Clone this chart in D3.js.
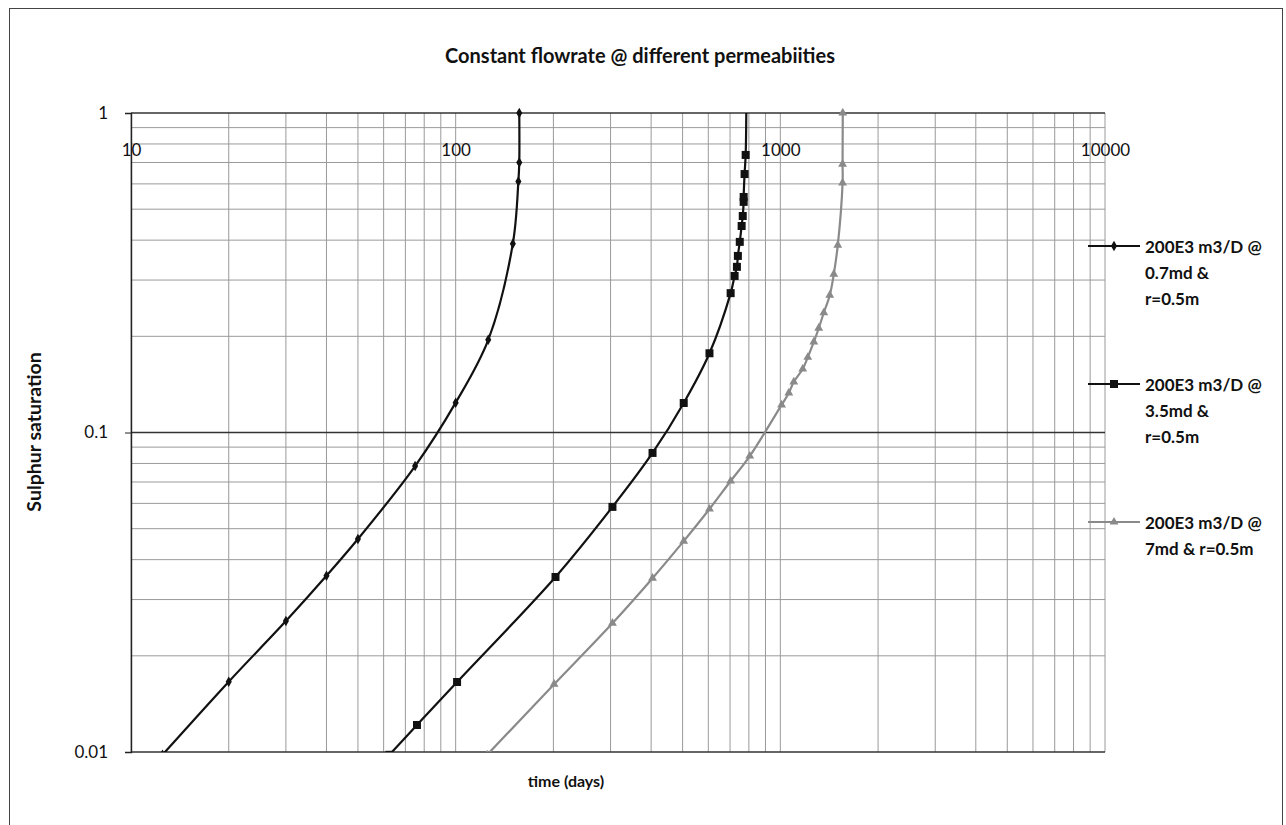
<!DOCTYPE html>
<html><head><meta charset="utf-8">
<script src="https://cdn.jsdelivr.net/npm/d3@7"></script>
<style>
body{margin:0;background:#fff}
svg{display:block}
text{font-family:Lato,"Open Sans",sans-serif;fill:#111}
</style>
</head><body>
<svg id="c" width="1286" height="825"></svg>
<script>
// ---- data ----
const xTickValues = [10, 100, 1000, 10000];
const xTickLabels = ["10", "100", "1000", "10000"];
const yTickValues = [1, 0.1, 0.01];
const yTickLabels = ["1", "0.1", "0.01"];
const seriesNames = [
  ["200E3 m3/D @", "0.7md &", "r=0.5m"],
  ["200E3 m3/D @", "3.5md &", "r=0.5m"],
  ["200E3 m3/D @", "7md & r=0.5m"]
];
// 0.7 md
const time07 = [157, 157, 156, 150, 126, 100, 75, 50, 40, 30, 20, 12.5];
const sat07  = [1, 0.70, 0.61, 0.39, 0.195, 0.124, 0.0785, 0.0464, 0.0356, 0.0257, 0.0166, 0.0098];
// 3.5 md
const time35 = [786, 782, 776, 771, 771, 766, 760, 750, 740, 735, 723, 703, 605, 504, 404, 304, 203, 101, 76, 62.5];
const sat35  = [1.08, 0.739, 0.644, 0.546, 0.527, 0.476, 0.443, 0.395, 0.357, 0.330, 0.309, 0.273, 0.177, 0.1237, 0.0863, 0.0585, 0.0353, 0.01656, 0.01215, 0.0098];
// 7 md
const time7 = [1557, 1555, 1555, 1503, 1461, 1420, 1361, 1313, 1268, 1215, 1172, 1100, 1062, 1009, 805, 703, 605, 504, 404, 304, 201, 125];
const sat7  = [1, 0.692, 0.604, 0.386, 0.313, 0.269, 0.237, 0.212, 0.192, 0.172, 0.158, 0.144, 0.133, 0.122, 0.0844, 0.0705, 0.0576, 0.0457, 0.0350, 0.0253, 0.0163, 0.0098];

const series = [
  {name: seriesNames[0], t: time07, s: sat07, color: "#111", symbol: d3.symbolDiamond, size: 32},
  {name: seriesNames[1], t: time35, s: sat35, color: "#111", symbol: d3.symbolSquare, size: 64},
  {name: seriesNames[2], t: time7,  s: sat7,  color: "#8a8a8a", symbol: d3.symbolTriangle, size: 34}
];

// ---- layout ----
const L = 131, R = 1105, T = 113, B = 752;
const svg = d3.select("#c");
const x = d3.scaleLog().domain([10, 10000]).range([L, R]);
const y = d3.scaleLog().domain([0.01, 1]).range([B, T]);

// outer frame
svg.append("rect").attr("x", 9.5).attr("y", 8.5).attr("width", 1273).attr("height", 830)
  .attr("fill", "none").attr("stroke", "#444").attr("stroke-width", 1);

// title
svg.append("text").attr("x", 640).attr("y", 55).attr("text-anchor", "middle")
  .attr("dominant-baseline", "central").style("font-weight", "bold").style("font-size", "20px")
  .text("Constant flowrate @ different permeabiities");

// grid
const g = svg.append("g");
const isMajor = d => yTickValues.some(v => Math.abs(v - d) < 1e-9);
g.selectAll("line.vx").data(x.ticks()).join("line")
  .attr("x1", d => x(d)).attr("x2", d => x(d)).attr("y1", T).attr("y2", B)
  .attr("stroke", "#9a9a9a").attr("stroke-width", 1);
g.selectAll("line.hy").data(y.ticks()).join("line")
  .attr("x1", L).attr("x2", R).attr("y1", d => y(d)).attr("y2", d => y(d))
  .attr("stroke", d => isMajor(d) ? "#333" : "#9a9a9a")
  .attr("stroke-width", d => isMajor(d) ? 1.4 : 1);

// y axis
const yAxis = d3.axisLeft(y).tickValues(yTickValues)
  .tickFormat((d, i) => yTickLabels[i]).tickSize(6).tickPadding(17);
const ya = svg.append("g").attr("transform", `translate(${L},0)`).call(yAxis);
ya.select(".domain").attr("stroke", "#222").attr("stroke-width", 1.4);
ya.selectAll(".tick line").attr("stroke", "#222");
ya.selectAll("text").style("font-size", "17px").attr("fill", "#111").attr("font-family", null);

// x tick labels (drawn near the top like the original)
const xa = svg.append("g").attr("transform", `translate(0,150)`)
  .call(d3.axisBottom(x).tickValues(xTickValues).tickFormat((d, i) => xTickLabels[i]).tickSize(0).tickPadding(0));
xa.select(".domain").remove();
xa.selectAll("text").attr("dy", "0.35em").attr("y", 0).style("font-size", "17px").attr("fill", "#111").attr("font-family", null);

// axis titles
svg.append("text").attr("transform", "translate(33,432) rotate(-90)").attr("text-anchor", "middle")
  .attr("dominant-baseline", "central").style("font-weight", "bold").style("font-size", "19.5px")
  .text("Sulphur saturation");
svg.append("text").attr("x", 566).attr("y", 780).attr("text-anchor", "middle")
  .attr("dominant-baseline", "central").style("font-weight", "bold").style("font-size", "16px")
  .text("time (days)");

// clips
svg.append("clipPath").attr("id", "lineclip").append("rect")
  .attr("x", L).attr("y", T).attr("width", R - L).attr("height", B - T);
svg.append("clipPath").attr("id", "markclip").append("rect")
  .attr("x", L).attr("y", T - 5).attr("width", R - L).attr("height", B - T + 5);

const lines = svg.append("g").attr("clip-path", "url(#lineclip)");
const marks = svg.append("g").attr("clip-path", "url(#markclip)");
const line = d3.line().x(d => x(d[0])).y(d => y(d[1])).curve(d3.curveCatmullRom.alpha(0.5));

series.forEach(sr => {
  const pts = sr.t.map((t, i) => [t, sr.s[i]]);
  lines.append("path").datum(pts).attr("d", line).attr("fill", "none")
    .attr("stroke", sr.color).attr("stroke-width", 2.2);
  marks.append("g").selectAll("path").data(pts).join("path")
    .attr("transform", d => `translate(${x(d[0])},${y(d[1])})`)
    .attr("d", d3.symbol().type(sr.symbol).size(sr.size)).attr("fill", sr.color);
});

// legend
const legendTop = [246, 384, 522];
const lineH = 26;
series.forEach((sr, i) => {
  const gy = legendTop[i];
  const lg = svg.append("g");
  lg.append("line").attr("x1", 1088).attr("x2", 1140).attr("y1", gy).attr("y2", gy)
    .attr("stroke", sr.color).attr("stroke-width", 2.2);
  lg.append("path").attr("transform", `translate(1114,${gy})`)
    .attr("d", d3.symbol().type(sr.symbol).size(sr.size)).attr("fill", sr.color);
  sr.name.forEach((ln, j) => {
    lg.append("text").attr("x", 1145).attr("y", gy + j * lineH).attr("dominant-baseline", "central")
      .style("font-weight", "bold").style("font-size", "17px").text(ln);
  });
});
</script>
</body></html>
